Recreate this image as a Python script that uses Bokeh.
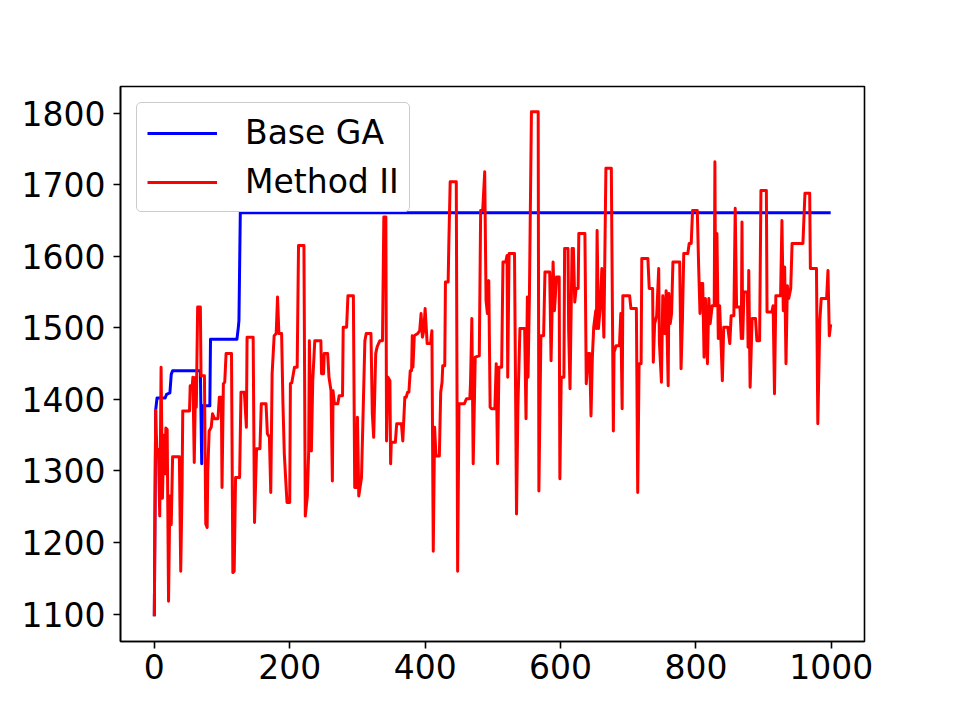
from bokeh.plotting import figure
from bokeh.models import Range1d, FixedTicker, Legend, LegendItem
from bokeh.embed import file_html
from bokeh.resources import INLINE

# Base GA: best fitness per generation
ga_gen = [0, 2, 4, 16, 18, 23, 25, 27, 68, 70, 71, 82, 83, 122, 124, 125, 127, 999]
ga_fit = [1097, 1385, 1402, 1402, 1407, 1409, 1435, 1440, 1440, 1310, 1391, 1391,
          1484, 1484, 1500, 1510, 1661, 1661]

# Method II: fitness per generation
m2_gen = [
    0, 2, 4, 6, 8, 10, 12, 14, 16, 17, 19, 21, 23, 25, 27, 37, 39, 41, 42, 52,
    53, 56, 57, 59, 61, 62, 64, 68, 69, 74, 76, 78, 79, 81, 84, 86, 89, 94, 96, 99,
    100, 102, 104, 106, 114, 116, 118, 120, 126, 128, 133, 136, 137, 146, 148, 151, 156, 158, 165, 167,
    170, 172, 174, 177, 180, 182, 184, 188, 190, 192, 195, 196, 200, 201, 203, 207, 211, 213, 221, 223,
    226, 228, 229, 232, 234, 237, 246, 247, 250, 251, 256, 258, 261, 263, 264, 266, 271, 273, 278, 279,
    284, 286, 294, 296, 298, 300, 302, 306, 308, 311, 313, 320, 322, 324, 327, 329, 333, 337, 339, 342,
    343, 345, 348, 349, 350, 356, 358, 365, 367, 370, 372, 374, 376, 378, 380, 381, 382, 384, 389, 392,
    394, 396, 398, 400, 403, 408, 410, 412, 414, 416, 421, 423, 425, 426, 429, 430, 434, 435, 437, 446,
    448, 450, 458, 461, 466, 467, 469, 471, 474, 480, 482, 485, 488, 490, 492, 494, 496, 498, 503, 505,
    507, 509, 513, 515, 519, 521, 522, 524, 532, 535, 537, 540, 547, 549, 551, 552, 554, 557, 567, 568,
    571, 575, 577, 584, 586, 589, 591, 594, 598, 599, 601, 605, 606, 611, 612, 614, 617, 619, 621, 623,
    626, 627, 636, 638, 641, 643, 645, 647, 649, 652, 653, 654, 656, 659, 661, 664, 667, 675, 678, 679,
    682, 687, 689, 691, 692, 702, 704, 712, 714, 716, 719, 720, 729, 731, 736, 737, 739, 742, 745, 746,
    749, 751, 754, 756, 759, 760, 762, 764, 766, 776, 778, 780, 782, 788, 790, 793, 795, 802, 804, 806,
    808, 810, 812, 814, 817, 819, 821, 824, 827, 828, 829, 831, 833, 835, 838, 839, 841, 847, 850, 852,
    856, 858, 860, 865, 867, 868, 869, 871, 876, 877, 878, 880, 883, 888, 890, 894, 896, 904, 905, 912,
    914, 916, 918, 925, 927, 929, 931, 933, 935, 937, 940, 942, 958, 961, 968, 969, 978, 980, 983, 985,
    993, 995, 997, 999,
]
m2_fit = [
    1097, 1385, 1320, 1330, 1237, 1445, 1262, 1350, 1296, 1360, 1358, 1118, 1265, 1225, 1320, 1320, 1160, 1277, 1384, 1384,
    1419, 1419, 1431, 1312, 1431, 1389, 1529, 1529, 1433, 1433, 1226, 1221, 1300, 1356, 1361, 1380, 1373, 1373, 1403, 1403,
    1277, 1422, 1424, 1464, 1464, 1158, 1160, 1291, 1291, 1410, 1410, 1361, 1487, 1487, 1228, 1331, 1331, 1394, 1394, 1352,
    1347, 1270, 1436, 1489, 1492, 1543, 1492, 1492, 1394, 1324, 1272, 1256, 1256, 1422, 1423, 1445, 1445, 1615, 1615, 1237,
    1265, 1328, 1482, 1328, 1426, 1482, 1482, 1436, 1436, 1464, 1464, 1431, 1412, 1286, 1412, 1394, 1394, 1405, 1405, 1501,
    1501, 1545, 1545, 1277, 1277, 1375, 1265, 1291, 1366, 1482, 1492, 1492, 1380, 1347, 1464, 1473, 1482, 1482, 1655, 1655,
    1342, 1431, 1426, 1310, 1340, 1340, 1366, 1366, 1342, 1403, 1403, 1410, 1410, 1440, 1440, 1489, 1445, 1489, 1492, 1496,
    1520, 1487, 1496, 1527, 1478, 1478, 1496, 1188, 1361, 1321, 1321, 1410, 1424, 1447, 1447, 1564, 1564, 1618, 1704, 1704,
    1160, 1394, 1394, 1401, 1401, 1422, 1513, 1310, 1459, 1461, 1664, 1664, 1718, 1538, 1520, 1566, 1389, 1387, 1387, 1450,
    1310, 1445, 1445, 1592, 1592, 1601, 1431, 1604, 1604, 1240, 1389, 1499, 1499, 1373, 1543, 1431, 1543, 1802, 1802, 1272,
    1489, 1489, 1578, 1578, 1454, 1592, 1524, 1571, 1571, 1289, 1431, 1431, 1611, 1611, 1496, 1415, 1611, 1611, 1536, 1555,
    1555, 1632, 1632, 1422, 1464, 1464, 1377, 1459, 1501, 1524, 1499, 1636, 1499, 1534, 1583, 1487, 1723, 1723, 1356, 1466,
    1475, 1475, 1520, 1387, 1545, 1545, 1527, 1527, 1270, 1450, 1450, 1597, 1597, 1555, 1555, 1452, 1506, 1517, 1583, 1480,
    1424, 1545, 1492, 1552, 1419, 1548, 1506, 1520, 1592, 1592, 1443, 1510, 1604, 1604, 1618, 1618, 1664, 1664, 1585, 1520,
    1562, 1562, 1459, 1541, 1450, 1541, 1506, 1531, 1531, 1732, 1531, 1632, 1485, 1531, 1454, 1426, 1501, 1501, 1478, 1517,
    1517, 1667, 1529, 1529, 1485, 1648, 1485, 1550, 1550, 1473, 1580, 1417, 1513, 1513, 1482, 1482, 1692, 1692, 1522, 1522,
    1531, 1408, 1545, 1545, 1650, 1524, 1585, 1450, 1559, 1541, 1555, 1618, 1618, 1688, 1688, 1583, 1583, 1366, 1510, 1541,
    1541, 1580, 1489, 1505,
]

x_ticks = [0, 200, 400, 600, 800, 1000]
y_ticks = [1100, 1200, 1300, 1400, 1500, 1600, 1700, 1800]

# axis limits with a 5% margin around the data
all_x = ga_gen + m2_gen
all_y = ga_fit + m2_fit
x_lo, x_hi = min(all_x), max(all_x)
y_lo, y_hi = min(all_y), max(all_y)
x_pad = 0.05 * (x_hi - x_lo)
y_pad = 0.05 * (y_hi - y_lo)

FONT = "DejaVu Sans"

p = figure(
    width=960, height=720,
    output_backend="svg", toolbar_location=None,
    x_range=Range1d(x_lo - x_pad, x_hi + x_pad),
    y_range=Range1d(y_lo - y_pad, y_hi + y_pad),
    min_border_left=120, min_border_right=96,
    min_border_top=86, min_border_bottom=79,
)
p.background_fill_color = "white"
p.border_fill_color = "white"
p.xgrid.visible = False
p.ygrid.visible = False
p.outline_line_color = "black"
p.outline_line_width = 1.6
p.outline_line_alpha = 1.0

for ax in (p.xaxis, p.yaxis):
    ax.axis_line_color = "black"
    ax.axis_line_width = 1.6
    ax.major_tick_line_color = "black"
    ax.major_tick_line_width = 1.6
    ax.major_tick_out = 7
    ax.major_tick_in = 0
    ax.minor_tick_line_color = None
    ax.major_label_text_font = FONT
    ax.major_label_text_font_size = "33px"
    ax.major_label_text_color = "black"

p.xaxis.ticker = FixedTicker(ticks=x_ticks)
p.yaxis.ticker = FixedTicker(ticks=y_ticks)
p.xaxis.major_label_standoff = 5
p.yaxis.major_label_standoff = 8

r_ga = p.line(ga_gen, ga_fit, line_color="#0000ff", line_width=3, line_join="round")
r_m2 = p.line(m2_gen, m2_fit, line_color="#ff0000", line_width=3, line_join="round")

legend = Legend(
    items=[
        LegendItem(label="Base GA", renderers=[r_ga]),
        LegendItem(label="Method II", renderers=[r_m2]),
    ],
    location="top_left",
    margin=16,
    padding=10,
    spacing=10,
    glyph_width=70,
    glyph_height=38,
    label_height=38,
    label_standoff=28,
    label_text_font=FONT,
    label_text_font_size="33px",
    label_text_color="black",
    border_line_color="#cccccc",
    border_line_width=1.5,
    border_line_alpha=1.0,
    background_fill_color="white",
    background_fill_alpha=0.8,
)
if "border_radius" in Legend.properties():
    legend.border_radius = 5
p.add_layout(legend)

open("out.html", "w").write(file_html(p, INLINE))
